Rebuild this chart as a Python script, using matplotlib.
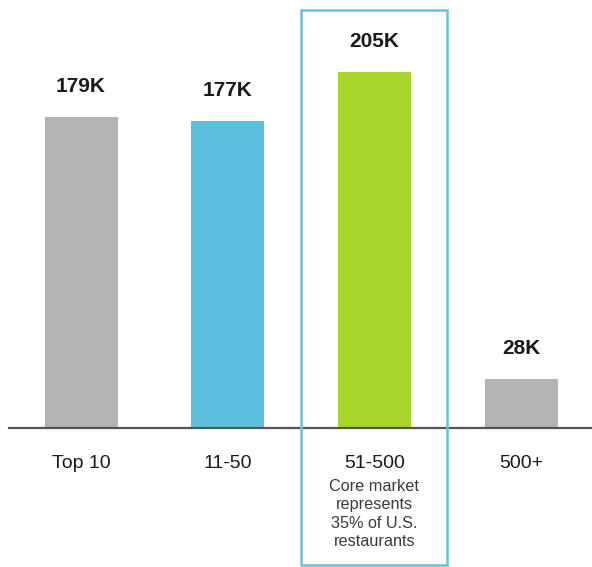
import matplotlib
matplotlib.use("Agg")
import matplotlib.pyplot as plt
from matplotlib.patches import Rectangle

categories = ["Top 10", "11-50", "51-500", "500+"]
values = [179, 177, 205, 28]
value_labels = ["179K", "177K", "205K", "28K"]
colors = ["#b3b3b3", "#5bbddc", "#a6d42a", "#b3b3b3"]
note = "Core market\nrepresents\n35% of U.S.\nrestaurants"

plt.rcParams['font.family'] = ['Liberation Sans', 'DejaVu Sans']

W, H = 592, 567
fig = plt.figure(figsize=(W / 100, H / 100), dpi=100)
ax = fig.add_axes([0, 0, 1, 1])
ax.set_axis_off()

pxx = 146.7
x0 = 81
ppk = 1.735
base = 428
ax.set_xlim(-x0 / pxx, (W - x0) / pxx)
ax.set_ylim(-(H - base) / ppk, base / ppk)

xs = list(range(len(categories)))
ax.bar(xs, values, width=73 / pxx, color=colors, zorder=2)

for x, v, lab in zip(xs, values, value_labels):
    ax.annotate(lab, (x, v), xytext=(0, 25), textcoords="offset pixels",
                ha="center", va="baseline", fontsize=15, fontweight="bold", color="#1a1a1a")

for x, c in zip(xs, categories):
    ax.annotate(c, (x, 0), xytext=(0, -40), textcoords="offset pixels",
                ha="center", va="baseline", fontsize=14, color="#1a1a1a")

ax.annotate(note, (2, 0), xytext=(0, -51), textcoords="offset pixels",
            ha="center", va="top", fontsize=11.7, color="#3a3a3a", linespacing=1.28)

ax.axhline(0, xmin=9 / W, xmax=1, color="#555555", lw=1.6, zorder=3)

ax.add_patch(Rectangle((301 / W, 1 - 565 / H), (447 - 301) / W, (565 - 10) / H,
                       transform=ax.transAxes, fill=False, edgecolor="#6cc0dc",
                       lw=1.8, zorder=4))

fig.savefig("out.png", dpi=100)
